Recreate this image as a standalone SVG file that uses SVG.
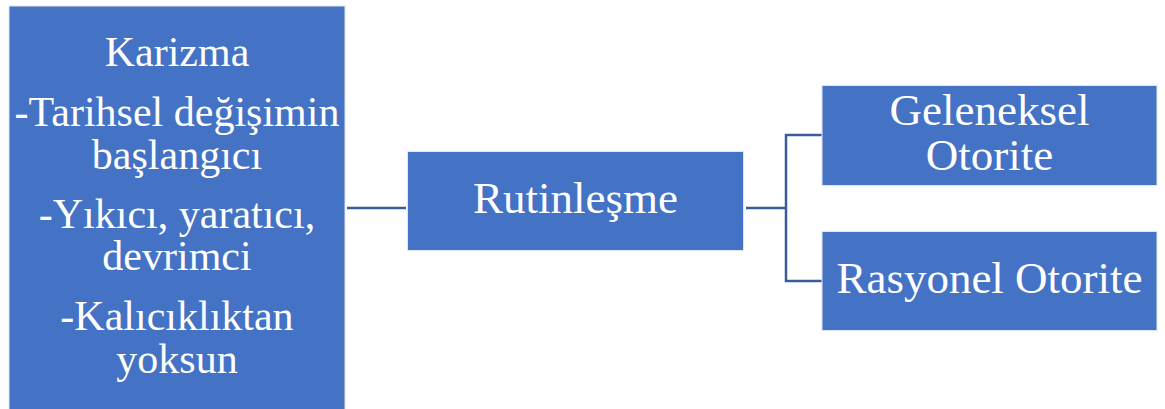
<svg xmlns="http://www.w3.org/2000/svg" width="1165" height="409" viewBox="0 0 1165 409">
<style>
.box{fill:#4472C4;stroke:#dfe6f3;stroke-width:1}
.t{font-family:"Liberation Serif","Times New Roman",serif;fill:#ffffff;text-anchor:middle}
.l{font-size:42px}
.m{font-size:45px}
.c{fill:none;stroke:#3B5C9C;stroke-width:2.5}
</style>
<rect width="1165" height="409" fill="#ffffff"/>
<g id="connectors">
<path class="c" d="M347 208H406"/>
<path class="c" d="M746 208H786"/>
<path class="c" d="M822 135H786V281H822"/>
</g>
<g id="karizma">
<rect class="box" x="9" y="6" width="336" height="405"/>
<text class="t l" x="177" y="66">Karizma</text>
<text class="t l" x="177" y="126">-Tarihsel değişimin</text>
<text class="t l" x="177" y="169">başlangıcı</text>
<text class="t l" x="177" y="228">-Yıkıcı, yaratıcı,</text>
<text class="t l" x="177" y="270">devrimci</text>
<text class="t l" x="177" y="330">-Kalıcıklıktan</text>
<text class="t l" x="177" y="373">yoksun</text>
</g>
<g id="rutinlesme">
<rect class="box" x="407.5" y="151.5" width="336" height="99"/>
<text class="t m" x="575.5" y="213">Rutinleşme</text>
</g>
<g id="geleneksel">
<rect class="box" x="822" y="85.5" width="335" height="100"/>
<text class="t m" x="989.5" y="125">Geleneksel</text>
<text class="t m" x="989.5" y="170">Otorite</text>
</g>
<g id="rasyonel">
<rect class="box" x="822" y="231.5" width="335" height="99"/>
<text class="t m" x="989.5" y="293">Rasyonel Otorite</text>
</g>
</svg>
